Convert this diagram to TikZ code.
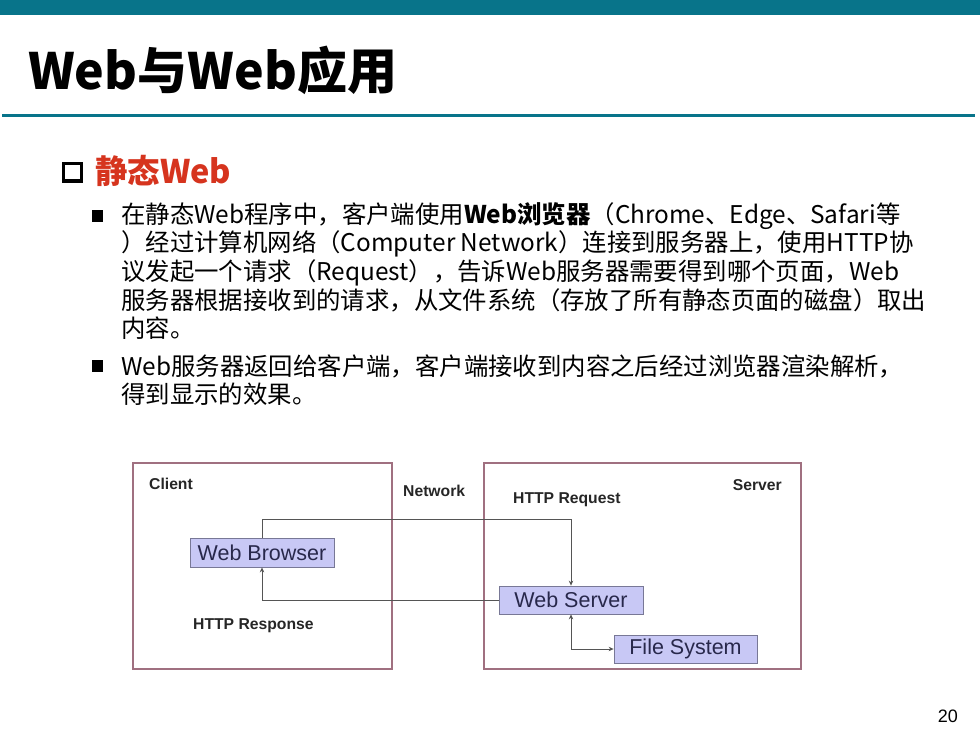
\documentclass[tikz,border=0pt]{standalone}
\usepackage{fontspec}
\setmainfont{Noto Sans CJK SC}
\newfontfamily\arialf{Liberation Sans}
\usetikzlibrary{arrows.meta}
\definecolor{teal1}{RGB}{8,116,138}
\definecolor{redh}{RGB}{214,52,30}
\definecolor{boxb}{RGB}{160,112,128}
\definecolor{lav}{RGB}{200,200,245}
\definecolor{lavb}{RGB}{120,120,150}
\definecolor{conn}{RGB}{85,85,85}
\definecolor{navy}{RGB}{40,40,75}
\begin{document}
\begin{tikzpicture}[x=1pt,y=-1pt,
  bodyline/.style={anchor=base west,inner sep=0pt,font=\fontsize{24.4}{28.5}\selectfont},
  region/.style={draw=boxb,line width=1.3pt},
  comp/.style={draw=lavb,fill=lav,line width=0.8pt,inner sep=0pt,text=navy,font=\arialf\fontsize{21.5}{23}\selectfont},
  lbl/.style={inner sep=0pt,text=black!85,font=\arialf\bfseries\fontsize{15.7}{17}\selectfont},
  link/.style={draw=conn,line width=0.9pt},
  tip/.style={-{Stealth[length=5pt,width=4.5pt]}},
  bullet/.style={fill=black,draw=none}]
\useasboundingbox (0,0) rectangle (980,735);
\fill[white] (0,0) rectangle (980,735);
% header
\fill[teal1] (0,0) rectangle (980,15);
\node[anchor=base west,inner sep=0pt,font=\bfseries\fontsize{50}{56}\selectfont] (title) at (28,90) {Web与Web应用};
\draw[teal1,line width=3pt] (2,116) -- (975,116);
% heading
\draw[black,line width=3.5pt] (63.5,163.5) rectangle (81.5,181);
\node[anchor=base west,inner sep=0pt,text=redh,font=\bfseries\fontsize{32.5}{36}\selectfont] (head) at (95,183.5) {静态Web};
% bullets
\fill[bullet] (92,210) rectangle (103,222);
\fill[bullet] (92,360) rectangle (103,372);
\node[bodyline] (l1) at (121,223.5) {在静态Web程序中，客户端使用\textbf{Web浏览器}（Chrome、Edge、Safari等};
\node[bodyline] (l2) at (121,252) {）经过计算机网络（Computer Network）连接到服务器上，使用HTTP协};
\node[bodyline] (l3) at (121,280.5) {议发起一个请求（Request），告诉Web服务器需要得到哪个页面，Web};
\node[bodyline] (l4) at (121,309) {服务器根据接收到的请求，从文件系统（存放了所有静态页面的磁盘）取出};
\node[bodyline] (l5) at (121,337.5) {内容。};
\node[bodyline] (m1) at (121,375.5) {Web服务器返回给客户端，客户端接收到内容之后经过浏览器渲染解析，};
\node[bodyline] (m2) at (121,403) {得到显示的效果。};
% diagram
\draw[region] (133,463) rectangle (392,669);
\draw[region] (484,463) rectangle (801,669);
\node[lbl,anchor=west] (client) at (149,484) {Client};
\node[lbl,anchor=west] (net) at (403,491) {Network};
\node[lbl,anchor=east] (server) at (782,485) {Server};
\node[lbl,anchor=west] (req) at (513,500) {HTTP Request};
\node[lbl,anchor=west] (resp) at (193,626) {HTTP Response};
\node[comp,minimum width=144pt,minimum height=29pt] (wb) at (262,552.5) {Web Browser};
\node[comp,minimum width=144pt,minimum height=28pt] (ws) at (571,600) {Web Server};
\node[comp,minimum width=143pt,minimum height=28pt] (fs) at (685.5,649) {File System};
\coordinate (rq) at (571,519);
\draw[link,tip] (wb.north) |- (rq) -- (ws.north);
\draw[link,tip] (ws.west) -| (wb.south);
\draw[link,{Stealth[length=5pt,width=4.5pt]}-{Stealth[length=5pt,width=4.5pt]}] (ws.south) |- (fs.west);
% page number
\node[anchor=base east,inner sep=0pt,font=\arialf\fontsize{18}{20}\selectfont] (pg) at (958,722) {20};
\end{tikzpicture}
\end{document}
